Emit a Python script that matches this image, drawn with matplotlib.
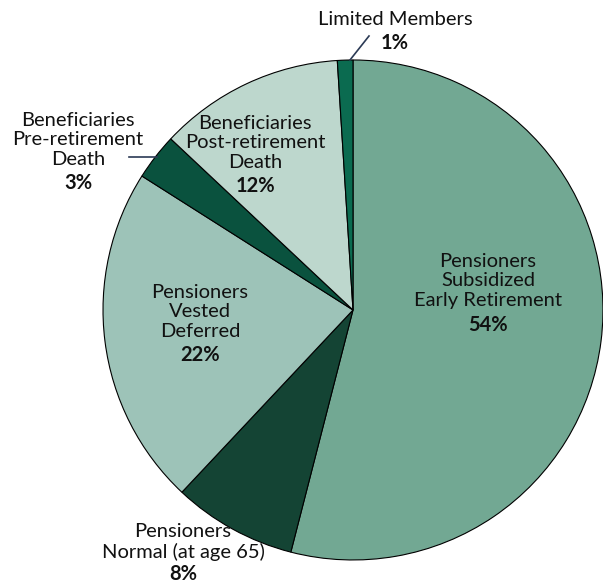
import matplotlib.pyplot as plt

plt.rcParams['font.family'] = ['Lato', 'DejaVu Sans']

labels = ['Pensioners\nSubsidized\nEarly Retirement',
          'Pensioners\nNormal (at age 65)',
          'Pensioners\nVested\nDeferred',
          'Beneficiaries\nPre-retirement\nDeath',
          'Beneficiaries\nPost-retirement\nDeath',
          'Limited Members']
shares = [54, 8, 22, 3, 12, 1]
colors = ['#72a893', '#144434', '#9dc3b8', '#0a523e', '#bdd7cd', '#0b6b50']

fig = plt.figure(figsize=(6.03, 5.83), dpi=100)
ax = fig.add_axes([0.1708, 0.0395, 0.8292, 0.8576])
ax.pie(shares, colors=colors, startangle=90, counterclock=False,
       wedgeprops=dict(edgecolor='black', linewidth=0.8), radius=1.0)
ax.set_xlim(-1, 1)
ax.set_ylim(-1, 1)
ax.set_aspect('equal')
ax.axis('off')


def px(x, y):
    # pixel position -> data coordinates (center 353,310; radius 250)
    return (x - 353) / 250.0, (310 - y) / 250.0


# (name block center, pct position) in pixels
spots = [((488, 281), (488, 325)),
         ((183, 542), (183, 574)),
         ((200, 312), (200, 355)),
         ((78, 140), (78, 183)),
         ((255, 143), (255, 186)),
         ((395, 20), (395, 43))]

for lab, val, (p1, p2) in zip(labels, shares, spots):
    ax.text(*px(*p1), lab, ha='center', va='center', fontsize=14.5,
            linespacing=1.18, color='#111111', clip_on=False)
    ax.text(*px(*p2), f'{val}%', ha='center', va='center', fontsize=14.5,
            fontweight='bold', color='#111111', clip_on=False)

# leader lines for the two thin slices
lc = '#2b3a55'
x0, y0 = px(350, 60)
x1, y1 = px(369, 36)
ax.plot([x0, x1], [y0, y1], color=lc, lw=1.2, clip_on=False)
x0, y0 = px(129, 157)
x1, y1 = px(157, 157)
ax.plot([x0, x1], [y0, y1], color=lc, lw=1.2, clip_on=False)

fig.savefig('out.png', dpi=100)
